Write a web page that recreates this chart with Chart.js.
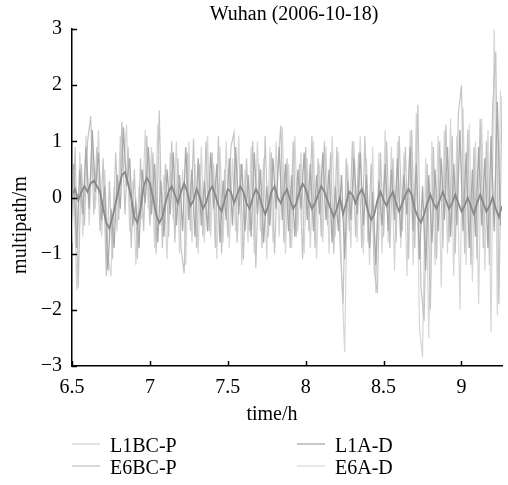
<!DOCTYPE html>
<html>
<head>
<meta charset="utf-8">
<script src="https://cdn.jsdelivr.net/npm/chart.js@4"></script>
<style>
  html, body { margin: 0; padding: 0; background: #fff; }
  #wrap { width: 508px; height: 485px; }
</style>
</head>
<body>
<div id="wrap"><canvas id="mpChart" width="508" height="485"></canvas></div>
<script>
// sample times (h)
const evenTimes = [
  6.50, 6.52, 6.54, 6.56, 6.58, 6.60, 6.62, 6.64, 6.66, 6.68,
  6.70, 6.72, 6.74, 6.76, 6.78, 6.80, 6.82, 6.84, 6.86, 6.88,
  6.90, 6.92, 6.94, 6.96, 6.98, 7.00, 7.02, 7.04, 7.06, 7.08,
  7.10, 7.12, 7.14, 7.16, 7.18, 7.20, 7.22, 7.24, 7.26, 7.28,
  7.30, 7.32, 7.34, 7.36, 7.38, 7.40, 7.42, 7.44, 7.46, 7.48,
  7.50, 7.52, 7.54, 7.56, 7.58, 7.60, 7.62, 7.64, 7.66, 7.68,
  7.70, 7.72, 7.74, 7.76, 7.78, 7.80, 7.82, 7.84, 7.86, 7.88,
  7.90, 7.92, 7.94, 7.96, 7.98, 8.00, 8.02, 8.04, 8.06, 8.08,
  8.10, 8.12, 8.14, 8.16, 8.18, 8.20, 8.22, 8.24, 8.26, 8.28,
  8.30, 8.32, 8.34, 8.36, 8.38, 8.40, 8.42, 8.44, 8.46, 8.48,
  8.50, 8.52, 8.54, 8.56, 8.58, 8.60, 8.62, 8.64, 8.66, 8.68,
  8.70, 8.72, 8.74, 8.76, 8.78, 8.80, 8.82, 8.84, 8.86, 8.88,
  8.90, 8.92, 8.94, 8.96, 8.98, 9.00, 9.02, 9.04, 9.06, 9.08,
  9.10, 9.12, 9.14, 9.16, 9.18, 9.20, 9.22, 9.24, 9.26
];
const oddTimes = [
  6.51, 6.53, 6.55, 6.57, 6.59, 6.61, 6.63, 6.65, 6.67, 6.69,
  6.71, 6.73, 6.75, 6.77, 6.79, 6.81, 6.83, 6.85, 6.87, 6.89,
  6.91, 6.93, 6.95, 6.97, 6.99, 7.01, 7.03, 7.05, 7.07, 7.09,
  7.11, 7.13, 7.15, 7.17, 7.19, 7.21, 7.23, 7.25, 7.27, 7.29,
  7.31, 7.33, 7.35, 7.37, 7.39, 7.41, 7.43, 7.45, 7.47, 7.49,
  7.51, 7.53, 7.55, 7.57, 7.59, 7.61, 7.63, 7.65, 7.67, 7.69,
  7.71, 7.73, 7.75, 7.77, 7.79, 7.81, 7.83, 7.85, 7.87, 7.89,
  7.91, 7.93, 7.95, 7.97, 7.99, 8.01, 8.03, 8.05, 8.07, 8.09,
  8.11, 8.13, 8.15, 8.17, 8.19, 8.21, 8.23, 8.25, 8.27, 8.29,
  8.31, 8.33, 8.35, 8.37, 8.39, 8.41, 8.43, 8.45, 8.47, 8.49,
  8.51, 8.53, 8.55, 8.57, 8.59, 8.61, 8.63, 8.65, 8.67, 8.69,
  8.71, 8.73, 8.75, 8.77, 8.79, 8.81, 8.83, 8.85, 8.87, 8.89,
  8.91, 8.93, 8.95, 8.97, 8.99, 9.01, 9.03, 9.05, 9.07, 9.09,
  9.11, 9.13, 9.15, 9.17, 9.19, 9.21, 9.23, 9.25
];

// multipath (m), on evenTimes
const l1bcP = [
  -0.8, 0.9, -1.6, 0.6, -0.5, 1.0, 1.45, -0.3, 0.9, -0.6,
  0.7, -1.4, 0.3, -1.1, 0.8, -0.4, 1.35, -0.3, 0.9, -0.9,
  0.5, -1.1, 0.7, -0.6, 1.1, -0.5, 0.8, -1.0, 1.55, -0.9,
  0.6, -0.7, 1.0, -0.8, 0.7, -0.9, -1.35, 0.8, -0.6, 1.05,
  -0.9, 0.6, -0.7, 1.0, -0.6, 0.8, -0.9, 1.1, -1.0, 0.5,
  -0.7, 0.9, 1.15, -0.8, 0.6, -1.1, 0.7, -0.6, 1.0, -1.25,
  0.6, -0.9, 1.1, -0.7, 0.8, -1.0, 0.5, 1.28, -0.8, 0.7,
  -0.9, 1.0, -0.7, 0.6, -1.1, 0.9, -0.6, 1.1, -0.9, 0.7,
  -0.7, 1.0, -0.5, 0.8, -1.0, 0.9, -0.8, -1.9, 0.7, -0.6,
  1.0, -0.7, 0.8, -0.9, 1.1, -0.8, 0.6, -1.3, -1.7, 0.8,
  -0.7, 1.0, -0.9, 0.7, -0.8, 1.1, -0.6, 0.9, -1.1, 1.2,
  -0.9, 1.65, -1.6, -2.2, 0.6, -2.0, 0.9, -1.1, 1.0, -0.9,
  1.3, -0.8, 1.1, -1.0, 1.5, 2.0, -1.0, 1.2, -1.2, 0.9,
  -1.1, 1.4, -0.9, 1.0, -1.2, 1.6, 2.6, -1.9, 1.8
];
const l1aD = [
  0.05, 0.15, -0.05, 0.1, 0.2, 0.1, 0.25, 0.3, 0.2, 0.1,
  -0.2, -0.45, -0.55, -0.35, -0.1, 0.15, 0.4, 0.45, 0.25, 0.0,
  -0.35, -0.45, -0.2, 0.2, 0.35, 0.25, 0.0, -0.3, -0.45, -0.35,
  -0.1, 0.1, 0.2, 0.05, -0.1, 0.1, 0.25, 0.1, -0.15, -0.05,
  0.15, 0.0, -0.2, -0.1, 0.1, 0.2, 0.05, -0.15, -0.25, -0.05,
  0.15, 0.1, -0.1, 0.05, 0.2, 0.1, -0.1, -0.2, 0.0, 0.15,
  0.05, -0.15, -0.3, -0.15, 0.1, 0.2, 0.0, -0.1, 0.05, 0.15,
  -0.05, -0.2, -0.1, 0.1, 0.25, 0.15, -0.05, -0.2, -0.1, 0.05,
  0.2, 0.1, -0.05, -0.2, -0.35, -0.2, 0.0, -0.3, -0.1, 0.1,
  0.05, -0.1, 0.05, 0.15, 0.0, -0.25, -0.4, -0.3, -0.05, 0.1,
  -0.05, -0.15, 0.0, 0.1, -0.1, -0.25, -0.1, 0.05, 0.15, 0.05,
  -0.2, -0.35, -0.45, -0.3, -0.1, 0.05, -0.1, -0.2, -0.05, 0.1,
  -0.05, -0.2, -0.1, 0.05, -0.1, -0.25, -0.15, 0.0, -0.15, -0.3,
  -0.1, 0.05, -0.1, -0.25, -0.15, 0.0, -0.2, -0.35, -0.15
];
// multipath (m), on oddTimes
const e6bcP = [
  0.6, -0.9, 0.5, -0.3, 0.9, -0.2, 1.2, 0.1, 0.8, -0.4,
  0.2, -1.3, -0.2, -0.9, 0.4, -0.2, 1.25, 0.2, 0.7, -0.5,
  -0.1, -0.9, 0.5, -0.1, 0.9, -0.3, 0.6, -0.8, 0.3, -0.7,
  0.5, -0.3, 0.8, -0.5, 0.4, -0.6, 0.9, -0.4, 0.5, -0.7,
  0.7, -0.5, 0.3, -0.6, 0.8, -0.2, 0.6, -0.8, 0.3, -0.4,
  0.7, -0.5, 0.9, -0.3, 0.6, -0.6, 0.4, -0.7, 0.8, -0.3,
  0.5, -0.8, 0.2, -0.5, 0.7, -0.2, 0.9, -0.4, 0.6, -0.6,
  0.4, -0.7, 0.5, -0.2, 0.8, -0.4, 0.6, -0.6, 0.4, -0.3,
  0.8, -0.4, 0.5, -0.8, 0.2, -0.6, 0.4, -1.1, 0.3, -0.4,
  0.7, -0.3, 0.8, -0.5, 0.4, -0.9, 0.1, -1.2, 0.3, -0.5,
  0.6, -0.6, 0.5, -0.4, 0.7, -0.7, 0.4, -0.3, 0.9, -0.6,
  0.6, -1.1, 0.2, -1.3, 0.4, -0.8, 0.5, -0.6, 0.7, -0.4,
  0.9, -0.7, 0.6, -0.5, 1.2, -0.6, 0.8, -0.9, 0.5, -0.7,
  0.9, -0.5, 0.7, -0.9, 1.1, -0.6, 1.7, -0.5
];
const e6aD = [
  0.4, -1.65, 0.8, -0.7, 1.1, -0.5, 0.9, -0.2, 1.2, -0.7,
  0.5, -1.0, -1.4, 0.2, -0.6, 1.1, 0.4, 1.3, -0.6, 0.3,
  -1.2, 0.2, -0.4, 1.2, -0.2, 0.9, -0.9, 1.3, -0.5, 0.4,
  -1.1, 0.8, -0.4, 1.0, -1.0, 0.5, -1.2, 1.0, -0.8, 0.6,
  -1.0, 0.9, -0.8, 1.1, -0.7, 0.6, -1.1, 0.9, -0.8, 1.0,
  -0.9, 0.7, -0.6, 1.1, -1.2, 0.5, -0.8, 0.9, -1.0, 1.0,
  -0.6, 0.7, -1.1, 0.9, -0.8, 1.0, -0.7, 1.25, -1.0, 0.6,
  -0.9, 1.1, -0.6, 0.8, -1.0, 0.7, -0.9, 1.0, -1.1, 0.6,
  -0.8, 0.9, -1.0, 1.1, -0.7, 0.8, -1.3, -2.75, 0.6, -0.9,
  1.0, -0.8, 1.1, -1.0, 0.7, -1.2, 0.9, -1.7, 0.8, -1.0,
  1.2, -0.8, 0.9, -1.3, 1.0, -0.9, 0.8, -1.4, 1.2, -1.2,
  1.5, -2.3, -2.85, 0.7, -2.5, 1.0, -1.2, 1.1, -1.6, 1.2,
  -1.0, 1.4, -1.4, 1.1, -2.0, 1.6, -1.2, 1.3, -1.5, 1.0,
  -1.9, 1.4, -1.3, 1.2, -2.4, 3.1, -2.1, 1.9
];

const xTicks = [6.5, 7, 7.5, 8, 8.5, 9];
const xTickLabels = ["6.5", "7", "7.5", "8", "8.5", "9"];
const yTicks = [-3, -2, -1, 0, 1, 2, 3];
const yTickLabels = ["\u22123", "\u22122", "\u22121", "0", "1", "2", "3"];

const FONT = "'Liberation Serif', 'Times New Roman', serif";

function pairs(times, vals) {
  return vals.map((v, i) => ({ x: times[i], y: v }));
}

// inward ticks, titles and the two-column legend
const decorations = {
  id: "decorations",
  afterDraw(chart) {
    const ctx = chart.ctx;
    const xs = chart.scales.x, ys = chart.scales.y;
    const area = chart.chartArea;
    ctx.save();
    ctx.strokeStyle = "#000";
    ctx.lineWidth = 1.5;
    xTicks.forEach(v => {
      const px = Math.round(xs.getPixelForValue(v)) + 0.5;
      ctx.beginPath();
      ctx.moveTo(px, area.bottom);
      ctx.lineTo(px, area.bottom - 5);
      ctx.stroke();
    });
    yTicks.forEach(v => {
      const py = Math.round(ys.getPixelForValue(v)) + 0.5;
      ctx.beginPath();
      ctx.moveTo(area.left, py);
      ctx.lineTo(area.left + 5, py);
      ctx.stroke();
    });

    ctx.fillStyle = "#000";
    ctx.font = "20px " + FONT;
    ctx.textAlign = "center";
    ctx.textBaseline = "middle";
    ctx.fillText("Wuhan (2006-10-18)", 294, 15);
    ctx.fillText("time/h", 272, 415);

    ctx.save();
    ctx.translate(21, 225);
    ctx.rotate(-Math.PI / 2);
    ctx.fillText("multipath/m", 0, 0);
    ctx.restore();

    const slots = [[72, 444], [297, 444], [72, 466], [297, 466]];
    ctx.textAlign = "left";
    chart.data.datasets.forEach((ds, i) => {
      const [lx, ly] = slots[i];
      ctx.strokeStyle = ds.legendColor;
      ctx.lineWidth = 1.5;
      ctx.beginPath();
      ctx.moveTo(lx, ly);
      ctx.lineTo(lx + 28, ly);
      ctx.stroke();
      ctx.fillStyle = "#000";
      ctx.fillText(ds.label, lx + 38, ly + 3);
    });
    ctx.restore();
  }
};

const ctx = document.getElementById("mpChart").getContext("2d");
new Chart(ctx, {
  type: "line",
  data: {
    datasets: [
      { label: "L1BC-P", data: pairs(evenTimes, l1bcP), borderColor: "#c4c4c4", borderWidth: 1.2, legendColor: "#d8d8d8", order: 2 },
      { label: "L1A-D", data: pairs(evenTimes, l1aD), borderColor: "#888888", borderWidth: 1.8, legendColor: "#b4b4b4", order: 0 },
      { label: "E6BC-P", data: pairs(oddTimes, e6bcP), borderColor: "#a9a9a9", borderWidth: 1.3, legendColor: "#cccccc", order: 1 },
      { label: "E6A-D", data: pairs(oddTimes, e6aD), borderColor: "#d6d6d6", borderWidth: 1.2, legendColor: "#e0e0e0", order: 3 }
    ].map(ds => Object.assign(ds, { pointRadius: 0, tension: 0, fill: false }))
  },
  options: {
    responsive: false,
    animation: false,
    layout: { padding: { left: 0, top: 29, right: 6, bottom: 0 } },
    plugins: { legend: { display: false }, title: { display: false }, tooltip: { enabled: false } },
    scales: {
      x: {
        type: "linear",
        min: 6.5,
        max: 9.26,
        afterBuildTicks: s => { s.ticks = xTicks.map(v => ({ value: v })); },
        afterFit: s => { s.height = 119; },
        grid: { display: false, drawTicks: false },
        border: { display: true, color: "#000", width: 1.5 },
        ticks: {
          autoSkip: false,
          maxRotation: 0,
          padding: 10,
          color: "#000",
          font: { family: FONT, size: 20 },
          callback: v => xTickLabels[xTicks.indexOf(v)]
        }
      },
      y: {
        min: -3,
        max: 3,
        afterBuildTicks: s => { s.ticks = yTicks.map(v => ({ value: v })); },
        afterFit: s => { s.width = 72; },
        grid: { display: false, drawTicks: false },
        border: { display: true, color: "#000", width: 1.5 },
        ticks: {
          padding: 10,
          color: "#000",
          font: { family: FONT, size: 20 },
          callback: v => yTickLabels[yTicks.indexOf(v)]
        }
      }
    }
  },
  plugins: [decorations]
});
</script>
</body>
</html>
